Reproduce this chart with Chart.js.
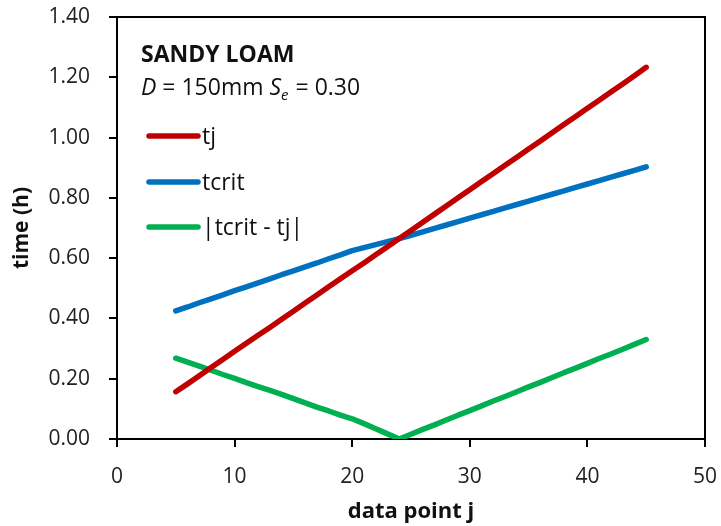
<!DOCTYPE html>
<html>
<head>
<meta charset="utf-8">
<script src="https://cdn.jsdelivr.net/npm/chart.js@4/dist/chart.umd.min.js"></script>
<style>
  html, body { margin: 0; padding: 0; background: #fff; }
  #wrap { width: 721px; height: 526px; position: relative; }
</style>
</head>
<body>
<div id="wrap"><canvas id="c" width="721" height="526"></canvas></div>
<script>
// ---- data ----
const dataPoints = [5,6,7,8,9,10,11,12,13,14,15,16,17,18,19,20,21,22,23,24,25,26,27,28,29,30,31,32,33,34,35,36,37,38,39,40,41,42,43,44,45];
const tjValues = [0.157,0.183,0.210,0.237,0.264,0.291,0.318,0.344,0.370,0.397,0.424,0.451,0.478,0.505,0.532,0.558,0.584,0.611,0.638,0.665,0.692,0.719,0.746,0.773,0.800,0.827,0.854,0.881,0.908,0.935,0.962,0.989,1.016,1.043,1.070,1.097,1.124,1.151,1.178,1.205,1.233];
const tcritValues = [0.425,0.438,0.452,0.465,0.478,0.492,0.505,0.518,0.531,0.545,0.558,0.571,0.584,0.598,0.611,0.625,0.635,0.645,0.655,0.665,0.676,0.687,0.699,0.710,0.721,0.733,0.744,0.755,0.767,0.778,0.789,0.801,0.812,0.823,0.835,0.846,0.857,0.869,0.880,0.891,0.903];
const diffValues = [0.268,0.255,0.242,0.228,0.214,0.201,0.187,0.174,0.161,0.148,0.134,0.120,0.106,0.093,0.079,0.067,0.051,0.034,0.017,0.000,0.016,0.032,0.047,0.063,0.079,0.094,0.110,0.126,0.141,0.157,0.173,0.188,0.204,0.220,0.235,0.251,0.267,0.282,0.298,0.314,0.330];
const seriesNames = ['tj', 'tcrit', '|tcrit - tj|'];
const xTicks = [0,10,20,30,40,50];
const yTicks = [0,0.2,0.4,0.6,0.8,1.0,1.2,1.4];
const titleLine1 = 'SANDY LOAM';

const colors = ['#C00000', '#0070C0', '#00B050'];
const FONT = '"Open Sans", "Noto Sans", sans-serif';

function pts(vals) { return dataPoints.map((x, i) => ({ x: x, y: vals[i] })); }

const annotPlugin = {
  id: 'annot',
  afterDraw(chart) {
    const ctx = chart.ctx;
    const ca = chart.chartArea;
    ctx.save();
    // plot border top & right
    ctx.strokeStyle = '#000';
    ctx.lineWidth = 2;
    ctx.beginPath();
    ctx.moveTo(ca.left, ca.top);
    ctx.lineTo(ca.right, ca.top);
    ctx.lineTo(ca.right, ca.bottom);
    ctx.stroke();

    ctx.fillStyle = '#111';
    ctx.textBaseline = 'alphabetic';
    ctx.textAlign = 'left';
    ctx.font = 'bold 23px ' + FONT;
    ctx.fillText(titleLine1, 141, 62);

    // D = 150mm Se = 0.30
    let x = 141, y = 95;
    ctx.font = 'italic 23px ' + FONT;
    ctx.fillText('D', x, y); x += ctx.measureText('D').width;
    ctx.font = '23px ' + FONT;
    let s = ' = 150mm ';
    ctx.fillText(s, x, y); x += ctx.measureText(s).width;
    ctx.font = 'italic 23px ' + FONT;
    ctx.fillText('S', x, y); x += ctx.measureText('S').width;
    ctx.font = 'italic 15px ' + FONT;
    ctx.fillText('e', x, y + 5); x += ctx.measureText('e').width + 1;
    ctx.font = '23px ' + FONT;
    ctx.fillText(' = 0.30', x, y);

    // legend
    const ly = [136, 182, 227];
    chart.data.datasets.forEach((ds, i) => {
      ctx.strokeStyle = ds.borderColor;
      ctx.lineWidth = 5.5;
      ctx.lineCap = 'round';
      ctx.beginPath();
      ctx.moveTo(149, ly[i]);
      ctx.lineTo(198, ly[i]);
      ctx.stroke();
      ctx.fillStyle = '#111';
      ctx.font = '23px ' + FONT;
      ctx.textBaseline = 'middle';
      ctx.fillText(ds.label, 202, ly[i] + 1);
    });
    ctx.restore();
  }
};

new Chart(document.getElementById('c'), {
  type: 'scatter',
  data: {
    datasets: [
      { label: seriesNames[0], data: pts(tjValues), borderColor: colors[0] },
      { label: seriesNames[1], data: pts(tcritValues), borderColor: colors[1] },
      { label: seriesNames[2], data: pts(diffValues), borderColor: colors[2] }
    ].map(d => Object.assign(d, {
      showLine: true, borderWidth: 5.5, pointRadius: 0, pointHoverRadius: 0,
      backgroundColor: d.borderColor, borderCapStyle: 'round', borderJoinStyle: 'round',
      tension: 0, fill: false
    }))
  },
  options: {
    responsive: false,
    animation: false,
    events: [],
    layout: { padding: { left: 0, right: 16, top: 17, bottom: 0 } },
    plugins: { legend: { display: false }, tooltip: { enabled: false } },
    scales: {
      x: {
        type: 'linear', min: 0, max: 50,
        afterBuildTicks: s => { s.ticks = xTicks.map(v => ({ value: v })); },
        afterFit: s => { s.height = 87; s.paddingLeft = 0; s.paddingRight = 0; },
        grid: { display: true, drawOnChartArea: false, drawTicks: true, tickLength: 8, color: '#000', lineWidth: 2 },
        border: { display: true, color: '#000', width: 2 },
        ticks: { color: '#222', font: { family: FONT, size: 21 }, padding: 17, maxRotation: 0 },
        title: { display: true, text: 'data point j', color: '#111', font: { family: FONT, size: 22, weight: 'bold' }, padding: { top: 0, bottom: 1 } }
      },
      y: {
        type: 'linear', min: 0, max: 1.4,
        afterBuildTicks: s => { s.ticks = yTicks.map(v => ({ value: v })); },
        afterFit: s => { s.width = 117; s.paddingTop = 0; s.paddingBottom = 0; },
        grid: { display: true, drawOnChartArea: false, drawTicks: true, tickLength: 8, color: '#000', lineWidth: 2 },
        border: { display: true, color: '#000', width: 2 },
        ticks: { color: '#222', font: { family: FONT, size: 21 }, padding: 19, callback: v => Number(v).toFixed(2) },
        title: { display: true, text: 'time (h)', color: '#111', font: { family: FONT, size: 21, weight: 'bold' }, padding: { top: 9, bottom: 0 } }
      }
    }
  },
  plugins: [annotPlugin]
});
</script>
</body>
</html>
